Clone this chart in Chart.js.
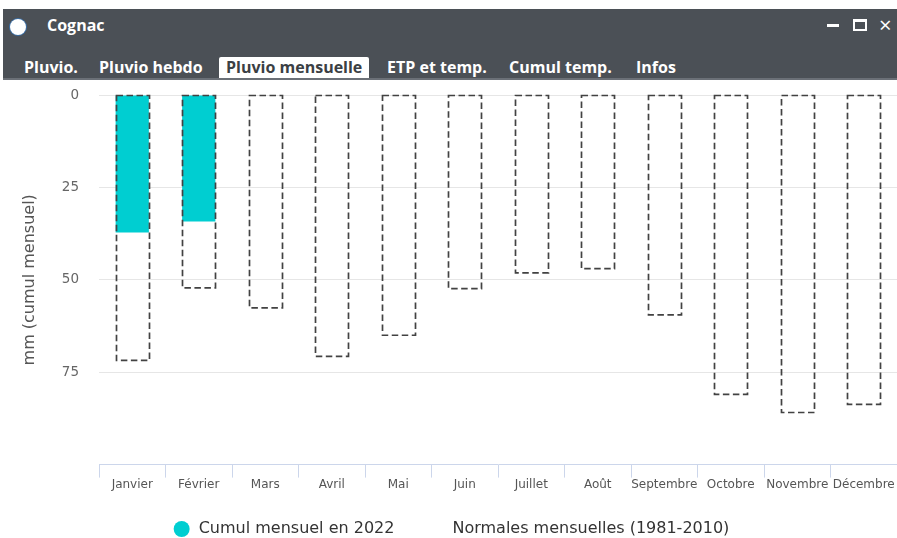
<!DOCTYPE html>
<html lang="fr">
<head>
<meta charset="utf-8">
<title>Cognac - Pluvio mensuelle</title>
<script src="https://cdn.jsdelivr.net/npm/chart.js@4/dist/chart.umd.min.js"></script>
<style>
  html, body { margin: 0; padding: 0; background: #fff; }
  body { width: 897px; height: 538px; position: relative; overflow: hidden; font-family: "Open Sans", sans-serif; }
  .win-head { position: absolute; left: 3px; top: 9px; right: 0; height: 69px; background: #4b5056; border-bottom: 2px solid #6b7077; }
  .win-head .dot { position: absolute; left: 7px; top: 10px; width: 16px; height: 16px; border-radius: 50%; background: #fff; box-shadow: 0 0 0 1px #3a6ea5; }
  .win-head .title { position: absolute; left: 44px; top: 5px; color: #fff; font-weight: bold; font-size: 16px; }
  .win-head .ctl { position: absolute; color: #fff; }
  .tab { position: absolute; top: 48px; height: 21px; line-height: 21px; color: #fff; font-weight: bold; font-size: 16px; white-space: nowrap; }
  .tab.active { background: #fff; color: #3b3f44; padding: 0 7px; border-radius: 2px 2px 0 0; }
  #chartBox { position: absolute; left: 0; top: 80px; width: 897px; height: 458px; }
</style>
</head>
<body>
<div class="win-head">
  <div class="dot"></div>
  <div class="title">Cognac</div>
  <div class="ctl" style="left:824px; top:15px; width:12px; height:3px; background:#fff;"></div>
  <div class="ctl" style="left:850px; top:10px; width:14px; height:12px; border:2px solid #fff; border-top-width:3px; box-sizing:border-box;"></div>
  <div class="ctl" style="left:876px; top:2px; font-size:22px; line-height:26px;">&#215;</div>
  <div class="tab" style="left:21px">Pluvio.</div>
  <div class="tab" style="left:96px">Pluvio hebdo</div>
  <div class="tab active" style="left:216px">Pluvio mensuelle</div>
  <div class="tab" style="left:384px">ETP et temp.</div>
  <div class="tab" style="left:506px">Cumul temp.</div>
  <div class="tab" style="left:633px">Infos</div>
</div>
<div id="chartBox"><canvas id="pluvioChart"></canvas></div>

<script>
const months = ["Janvier", "Février", "Mars", "Avril", "Mai", "Juin", "Juillet", "Août", "Septembre", "Octobre", "Novembre", "Décembre"];
// cumul 2022 (mm), only January and February so far
const cumul2022 = [37.2, 34.2, null, null, null, null, null, null, null, null, null, null];
// monthly normals 1981-2010 (mm)
const normales = [71.8, 52.2, 57.6, 70.7, 65.0, 52.4, 48.1, 47.0, 59.5, 81.0, 85.9, 83.7];
const yTicks = [0, 25, 50, 75];

const CYAN = "#00ced1";
const FONT = "DejaVu Sans";

// bars of the normals dataset are outlined with a dashed stroke
const dashedOutline = {
  id: "dashedOutline",
  afterDatasetsDraw(chart) {
    const ctx = chart.ctx;
    chart.data.datasets.forEach((ds, i) => {
      if (!ds.dashed) return;
      const meta = chart.getDatasetMeta(i);
      ctx.save();
      ctx.strokeStyle = "#424242";
      ctx.lineWidth = 1.7;
      ctx.setLineDash([6.5, 3.5]);
      meta.data.forEach(bar => {
        const p = bar.getProps(["x", "y", "base", "width"], true);
        const left = Math.round(p.x - p.width / 2) + 0.5;
        const top = Math.min(p.y, p.base);
        const h = Math.abs(p.y - p.base);
        ctx.strokeRect(left, top, Math.round(p.width), h);
      });
      ctx.restore();
    });
  }
};

// single-row legend under the x axis: filled circle for the 2022 series,
// nothing but the label for the normals
const bottomLegend = {
  id: "bottomLegend",
  afterDraw(chart) {
    const ctx = chart.ctx;
    const marker = 16, gapText = 9, gapItem = 33;
    ctx.save();
    ctx.font = "16px '" + FONT + "'";
    ctx.textBaseline = "middle";
    const items = chart.data.datasets.map(ds => ({
      ds,
      w: marker + gapText + ctx.measureText(ds.label).width
    }));
    const total = items.reduce((s, it) => s + it.w, 0) + gapItem * (items.length - 1);
    let x = (chart.width - total) / 2 + 3;
    const y = chart.height - 9;
    items.forEach(it => {
      if (!it.ds.dashed) {
        ctx.fillStyle = CYAN;
        ctx.beginPath();
        ctx.arc(x + marker / 2, y, marker / 2, 0, Math.PI * 2);
        ctx.fill();
      }
      ctx.fillStyle = "#333";
      ctx.fillText(it.ds.label, x + marker + gapText, y);
      x += it.w + gapItem;
    });
    ctx.restore();
  }
};

const ctx = document.getElementById("pluvioChart").getContext("2d");

new Chart(ctx, {
  type: "bar",
  data: {
    labels: months,
    datasets: [
      {
        label: "Cumul mensuel en 2022",
        data: cumul2022,
        backgroundColor: CYAN,
        borderWidth: 0,
        grouped: false,
        order: 2,
        barPercentage: 0.5,
        categoryPercentage: 1
      },
      {
        label: "Normales mensuelles (1981-2010)",
        data: normales,
        backgroundColor: "rgba(0,0,0,0)",
        borderWidth: 0,
        dashed: true,
        grouped: false,
        order: 1,
        barPercentage: 0.5,
        categoryPercentage: 1
      }
    ]
  },
  options: {
    responsive: true,
    maintainAspectRatio: false,
    animation: false,
    layout: { padding: { top: 0, right: 0, left: 0, bottom: 46 } },
    plugins: {
      title: { display: false },
      tooltip: { enabled: false },
      legend: { display: false }
    },
    scales: {
      x: {
        offset: true,
        grid: {
          offset: true,
          drawOnChartArea: false,
          drawTicks: true,
          tickLength: 13,
          color: "#ccd6eb"
        },
        border: { display: true, color: "#ccd6eb", width: 1 },
        ticks: {
          color: "#555",
          padding: 0,
          maxRotation: 0,
          autoSkip: false,
          font: { family: FONT, size: 12 }
        }
      },
      y: {
        reverse: true,
        min: 0,
        max: 100,
        afterFit(scale) {
          scale.width = 99;
          scale.paddingTop = 15;
          scale.paddingBottom = 0;
        },
        afterBuildTicks(scale) {
          scale.ticks = yTicks.concat([100]).map(v => ({ value: v }));
        },
        grid: {
          drawTicks: false,
          color: c => (c.tick && c.tick.value === 100 ? "rgba(0,0,0,0)" : "#e6e6e6")
        },
        border: { display: false },
        ticks: {
          color: "#666",
          padding: 20,
          font: { family: FONT, size: 13.5 },
          callback: v => (yTicks.includes(v) ? v : "")
        },
        title: {
          display: true,
          text: "mm (cumul mensuel)",
          color: "#555",
          padding: { top: 20, bottom: 0 },
          font: { family: FONT, size: 16 }
        }
      }
    }
  },
  plugins: [dashedOutline, bottomLegend]
});
</script>
</body>
</html>
